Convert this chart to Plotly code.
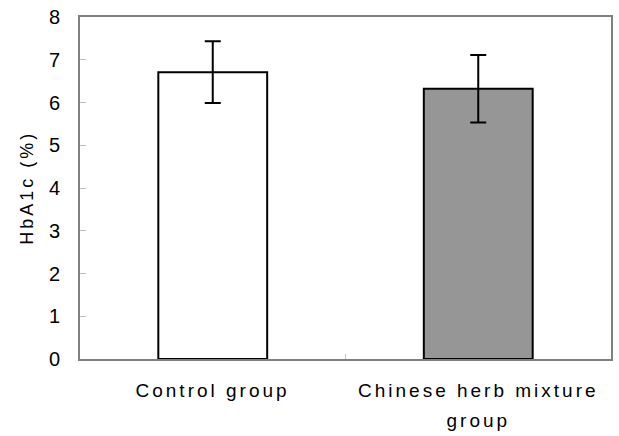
import plotly.graph_objects as go

# HbA1c by treatment group (mean ± SD)
groups = ["Control group", "Chinese herb mixture group"]
label_lines = [["Control group"], ["Chinese herb mixture", "group"]]
hba1c_mean = [6.71, 6.32]
hba1c_sd = [0.72, 0.79]
bar_colors = ["#ffffff", "#969696"]
y_ticks = [0, 1, 2, 3, 4, 5, 6, 7, 8]
y_range = [0, 8]

font_family = "Liberation Sans, Arial, sans-serif"

fig = go.Figure(
    go.Bar(
        x=groups,
        y=hba1c_mean,
        width=0.41,
        marker=dict(color=bar_colors, line=dict(color="#000000", width=2)),
        error_y=dict(type="data", array=hba1c_sd, visible=True,
                     color="#000000", thickness=2, width=8),
    )
)
# empty trace so the overlay axis (inside tick marks) gets drawn
fig.add_trace(go.Scatter(x=[], y=[], yaxis="y2", hoverinfo="skip"))

# category labels, one annotation per line for wider line spacing
plot_h = 436 - 13 - 77
for g, lines in zip(groups, label_lines):
    for i, line in enumerate(lines):
        fig.add_annotation(
            x=g, xref="x", y=(-32 - 30 * i) / plot_h, yref="y domain",
            yanchor="middle", text=line, showarrow=False,
            font=dict(size=19, color="#000000"),
        )

# y-axis title placed in paper coordinates
fig.add_annotation(
    x=(27 - 80) / (619 - 80 - 6), xref="paper", y=0.5, yref="y domain",
    text="HbA1c (%)", textangle=-90, showarrow=False,
    xanchor="center", yanchor="middle",
    font=dict(size=18, color="#000000"),
)

fig.update_layout(
    width=619,
    height=436,
    margin=dict(l=80, r=6, t=13, b=77),
    paper_bgcolor="white",
    plot_bgcolor="white",
    showlegend=False,
    font=dict(family=font_family, color="#000000"),
    xaxis=dict(
        type="category",
        showline=True, linecolor="#808080", linewidth=2, mirror=True,
        ticks="inside", tickson="boundaries", ticklen=5, tickcolor="#c0c0c0",
        tickwidth=1, showticklabels=False,
        showgrid=False, zeroline=False,
    ),
    # frame and tick labels (transparent outside ticks set the labels off)
    yaxis=dict(
        range=y_range,
        tickvals=y_ticks,
        showline=True, linecolor="#808080", linewidth=2, mirror=True,
        ticks="outside", ticklen=14, tickcolor="rgba(0,0,0,0)",
        tickfont=dict(size=20, color="#000000"),
        showgrid=False, zeroline=False,
    ),
    # same scale, short inside tick marks only
    yaxis2=dict(
        overlaying="y", side="left", anchor="x",
        range=y_range,
        tickvals=y_ticks,
        showline=False, ticks="inside", ticklen=6,
        tickcolor="#c0c0c0", tickwidth=1,
        showticklabels=False,
        showgrid=False, zeroline=False,
    ),
)

# wide letter spacing for the axis texts
post = """
var s = document.createElement('style');
s.textContent = '.annotation-text{letter-spacing:3px}';
document.head.appendChild(s);
"""

fig.write_html("out.html", post_script=post)
